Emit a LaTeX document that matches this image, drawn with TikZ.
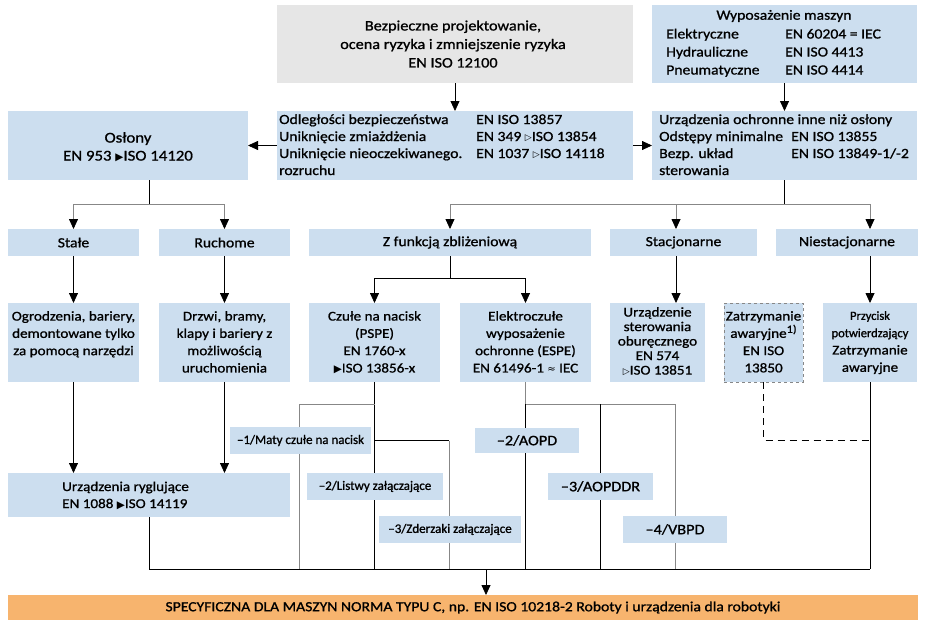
\documentclass[tikz,border=0pt]{standalone}
\usepackage{fontspec}
\setmainfont{Carlito}[FakeStretch=1.12,FakeBold=1]
\newfontfamily\condf{Carlito}[FakeBold=1]
\newfontfamily\symf{DejaVu Sans}
\usetikzlibrary{arrows.meta}
\definecolor{lblue}{RGB}{204,222,239}
\definecolor{lgray}{RGB}{230,230,230}
\definecolor{orng}{RGB}{247,180,110}
\definecolor{lgr}{RGB}{135,135,135}
\newcommand\fsz[2]{\fontsize{#1}{#2}\selectfont}
\newcommand\ftri{{\symf\fsz{10.5}{10.5}\raisebox{0pt}{▶}}}
\newcommand\otri{{\symf\fsz{9}{9}\raisebox{0.5pt}{▷}}}
\newcommand\bx[6][]{\node[bx,#1,minimum width={(#4-#2)*1pt},minimum height={(#5-#3)*1pt}] (#6) at ({(#2+#4)/2},{(#3+#5)/2}) {};}
\pgfdeclarelayer{bg}
\pgfsetlayers{bg,main}
\begin{document}
\begin{tikzpicture}[x=1pt,y=-1pt,
  bx/.style={fill=lblue,draw=none,inner sep=0pt,outer sep=0pt},
  txt/.style={inner sep=0pt,align=center,font=\fsz{13.5}{17.3}},
  tl/.style={inner sep=0pt,anchor=base west,font=\fsz{14}{17}},
  arr/.style={-{Triangle[width=9pt,length=10pt,color=black]},line width=0.8pt},
  ln/.style={line width=0.8pt},
  gln/.style={line width=0.8pt,draw=lgr}]
\useasboundingbox (0,0) rectangle (928,626);
% ---------- boxes
\bx[fill=lgray]{277}{5}{633}{83}{top}
\bx{652}{5}{917}{83}{wyp}
\bx{8}{111}{248}{180}{osl}
\bx{277}{111}{633}{180}{odl}
\bx{652}{111}{917}{180}{urz}
\bx{8}{229}{139}{256}{stale}
\bx{159}{229}{290}{256}{ruch}
\bx{309}{229}{591}{256}{zfz}
\bx{610}{229}{757}{256}{stac}
\bx{776}{229}{918}{256}{niest}
\bx{8}{303}{139}{382}{ogr}
\bx{159}{303}{290}{382}{drz}
\bx{309}{303}{440}{382}{czu}
\bx{460}{303}{591}{382}{ele}
\bx{610}{303}{705}{382}{ster}
\bx[draw=lgr,dashed,line width=0.8pt]{724}{303}{803}{382}{zat}
\bx{823}{303}{917}{382}{prz}
\bx{8}{473}{290}{517}{ryg}
\bx{230}{427}{371}{454}{ma}
\bx{307}{473}{443}{500}{mb}
\bx{379}{516}{521}{543}{mc}
\bx{475}{428}{579}{453}{aa}
\bx{548}{473}{653}{500}{ab}
\bx{623}{516}{727}{543}{ac}
\bx[fill=orng]{8}{595}{918}{620}{spec}
% ---------- texts
\node[txt,font=\fsz{14.5}{18.5}] (ttop) at (453,44) {Bezpieczne projektowanie,\\ocena ryzyka i zmniejszenie ryzyka\\EN ISO 12100};
\node[txt,font=\fsz{14}{17}] (twyp) at (784,16) {Wyposażenie maszyn};
\node[tl] (w1a) at (666,38.5) {Elektryczne};
\node[tl] (w1b) at (785,38.5) {EN 60204 = IEC};
\node[tl] (w2a) at (666,56.5) {Hydrauliczne};
\node[tl] (w2b) at (785,56.5) {EN ISO 4413};
\node[tl] (w3a) at (666,74.5) {Pneumatyczne};
\node[tl] (w3b) at (785,74.5) {EN ISO 4414};
\node[txt,font=\fsz{15}{18}] (tosl) at (128,147) {Osłony\\EN 953 \ftri ISO 14120};
\node[tl] (o1a) at (279,124) {Odległości bezpieczeństwa};
\node[tl] (o1b) at (476,124) {EN ISO 13857};
\node[tl] (o2a) at (279,141) {Uniknięcie zmiażdżenia};
\node[tl] (o2b) at (476,141) {EN 349 \otri ISO 13854};
\node[tl] (o3a) at (279,158) {Uniknięcie nieoczekiwanego.};
\node[tl] (o3b) at (476,158) {EN 1037 \otri ISO 14118};
\node[tl] (o4a) at (279,175) {rozruchu};
\node[tl] (u1a) at (659,124) {Urządzenia ochronne inne niż osłony};
\node[tl] (u2a) at (659,141) {Odstępy minimalne};
\node[tl] (u2b) at (791,141) {EN ISO 13855};
\node[tl] (u3a) at (659,158) {Bezp. układ};
\node[tl] (u3b) at (791,158) {EN ISO 13849-1/-2};
\node[tl] (u4a) at (659,175) {sterowania};
\node[txt,font=\fsz{14}{17}] at (stale) {Stałe};
\node[txt,font=\fsz{14}{17}] at (ruch) {Ruchome};
\node[txt,font=\fsz{14}{17}] at (zfz) {Z funkcją zbliżeniową};
\node[txt,font=\fsz{14}{17}] at (stac) {Stacjonarne};
\node[txt,font=\fsz{14}{17}] at (niest) {Niestacjonarne};
\node[txt,anchor=north] (togr) at (73.5,311) {Ogrodzenia, bariery,\\demontowane tylko\\za pomocą narzędzi};
\node[txt,anchor=north] (tdrz) at (224.5,311) {Drzwi, bramy,\\klapy i bariery z\\możliwością\\uruchomienia};
\node[txt,anchor=north] (tczu) at (374.5,311) {Czułe na nacisk\\(PSPE)\\EN 1760-x\\\ftri ISO 13856-x};
\node[txt,anchor=north] (tele) at (525.5,311) {Elektroczułe\\wyposażenie\\ochronne (ESPE)\\EN 61496-1 {\symf\fsz{10}{10}≈} IEC};
\node[txt,anchor=north,font=\fsz{13.5}{14.5}] (tster) at (657.5,307) {Urządzenie\\sterowania\\oburęcznego\\EN 574\\\otri ISO 13851};
\node[txt,anchor=north] (tzat) at (763.5,311) {Zatrzymanie\\awaryjne\raisebox{5pt}{\fsz{11}{11}1)}\\EN ISO\\13850};
\node[txt,anchor=north] (tprz) at (870,311) {{\condf\fsz{12.5}{17.3}Przycisk}\\{\condf\fsz{12.5}{17.3}potwierdzający}\\Zatrzymanie\\awaryjne};
\node[txt,anchor=base west] (trg1) at (62,491) {Urządzenia ryglujące};
\node[txt,anchor=base west] (trg2) at (62,508) {EN 1088 \ftri ISO 14119};
\node[txt,font=\condf\fsz{13}{14}] at (ma) {–1/Maty czułe na nacisk};
\node[txt,font=\condf\fsz{13}{14}] at (mb) {–2/Listwy załączające};
\node[txt,font=\condf\fsz{13}{14}] at (mc) {–3/Zderzaki załączające};
\node[txt,font=\fsz{14.5}{14}] at (aa) {–2/AOPD};
\node[txt,font=\fsz{14.5}{14}] at (ab) {–3/AOPDDR};
\node[txt,font=\fsz{14.5}{14}] at (ac) {–4/VBPD};
\node[txt,font=\fsz{14}{14}] at (473,607.5) {SPECYFICZNA DLA MASZYN NORMA TYPU C, np. EN ISO 10218-2 Roboty i urządzenia dla robotyki};
% ---------- connectors
\coordinate (br) at (870,569);
\coordinate (bm) at (486,569);
\begin{pgfonlayer}{bg}
\draw[arr] (top.south) -- (odl.north);
\draw[arr] (wyp.south) -- (urz.north);
\draw[arr] (odl.west) -- (osl.east);
\draw[arr] (odl.east) -- (urz.west);
\draw[ln] ([xshift=21pt]osl.south) -- ++(0,24);
\draw[arr,draw=lgr] ([xshift=21pt]osl.south) ++(0,24) -| (stale.north);
\draw[arr,draw=lgr] ([xshift=21pt]osl.south) ++(0,24) -| (ruch.north);
\draw[ln] (urz.south) -- ++(0,24);
\draw[arr,draw=lgr] (urz.south) ++(0,24) -| (zfz.north);
\draw[arr,draw=lgr] (urz.south) ++(0,24) -| (stac.north -| 676,0);
\draw[arr,draw=lgr] (urz.south) ++(0,24) -| (niest.north -| prz.north);
\draw[arr] (stac.south -| 676,0) -- (ster.north -| 676,0);
\draw[arr] (niest.south -| prz.north) -- (prz.north);
\draw[ln] (zfz.south) -- ++(0,22);
\draw[arr] (zfz.south) ++(0,22) -| (czu.north);
\draw[arr] (zfz.south) ++(0,22) -| (ele.north);
\draw[arr] (stale.south) -- (ogr.north);
\draw[arr] (ruch.south) -- (drz.north);
\draw[arr] (ogr.south) -- (ogr.south |- ryg.north);
\draw[arr] (drz.south) -- (drz.south |- ryg.north);
\draw[ln] (ryg.south) |- (br);
\draw[ln] (prz.south) -- (br);
\draw[arr] (bm) -- (spec.north -| bm);
% PSPE branch
\draw[ln] (czu.south) -- (czu.south |- br);
\draw[gln] (czu.south) ++(0,22) -| (299,569);
\draw[ln] (czu.south |- ma.east) -- (449,440.5);
\draw[gln] (449,440.5) -- (449,569);
% ESPE branch
\draw[gln] (ele.south) -- ++(0,22) -| (675,569);
\draw[ln] (ele.south) ++(0,22) -- (525.5,569);
\draw[ln] (600,404) -- (600,569);
\draw[ln,dashed,dash pattern=on 7pt off 5pt] (zat.south) |- (870,440);
\end{pgfonlayer}
\end{tikzpicture}
\end{document}
